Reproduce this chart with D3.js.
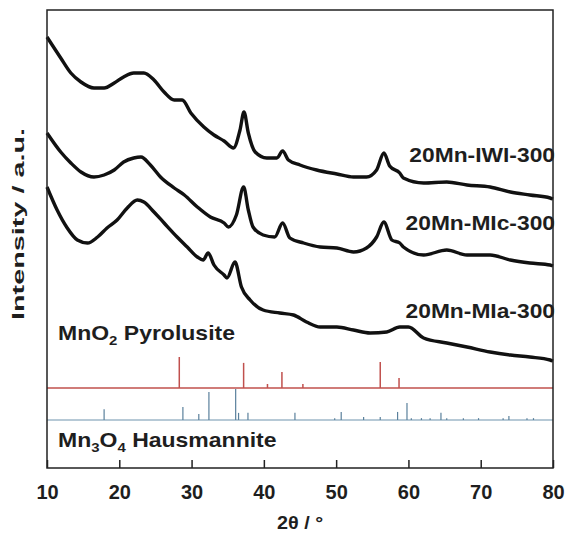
<!DOCTYPE html>
<html>
<head>
<meta charset="utf-8">
<script src="https://cdn.jsdelivr.net/npm/d3@7"></script>
<style>
  body { margin: 0; background: #fff; }
  text { font-family: Arial, "Liberation Sans", sans-serif; font-weight: bold; fill: #1e1e1e; }
</style>
</head>
<body>
<div id="chart"></div>
<script>
// XRD patterns, [2theta, intensity a.u.]
const mniwi = [[10,431],[11.9,410],[13.3,395],[14.7,386],[16.5,380],[17.9,380],[19.3,385],[20.6,391],[22,395],[23.4,395],[24.8,388],[26.2,376],[27.6,368],[28.7,368],[29.9,355],[31.7,341],[33.1,333],[34.5,327],[35.8,320],[36.7,338],[37.25,356],[37.85,335],[38.8,316],[40.4,310],[41.8,310],[42.6,317],[43.4,308],[45,303],[47.3,298],[50.1,294],[52.4,291],[54.2,291],[55.6,298],[56.6,315],[57.4,302],[58.8,295],[59.3,290],[62.1,285],[65.3,286],[68.1,283],[71.3,281],[74.1,276],[76.8,273],[79.6,270],[80,269]];
const mnmic = [[10,335],[11.9,316],[13.3,305],[14.7,296],[16.5,291],[17.9,293],[19.3,298],[20.6,306],[22,310],[23,311],[24.3,303],[25.7,291],[27.6,280],[29,273],[30.8,261],[32.6,251],[34.5,245],[35.1,241],[36.2,253],[37.2,281],[37.85,258],[38.5,241],[39.9,233],[41.5,231],[42.6,245],[43.6,230],[45.5,225],[47.8,221],[50.1,220],[52.4,216],[54.2,220],[55.6,231],[56.6,246],[57.7,228],[58.8,225],[59.3,221],[62.1,213],[65.3,218],[68.1,213],[71.3,213],[74.1,208],[76.8,205],[79.6,203],[80,202]];
const mnmia = [[10,281],[11.4,258],[12.8,240],[14.2,228],[15.6,225],[17,231],[18.3,240],[19.7,248],[21.1,260],[22.5,268],[23.4,266],[24.8,256],[26.2,245],[28,231],[29.4,221],[30.8,211],[31.6,208],[32.3,215],[33.1,203],[34.5,193],[34.9,190],[36,206],[36.9,181],[38.1,168],[39.9,158],[42.2,155],[44.1,153],[45.9,146],[47.8,141],[50.1,141],[52.4,138],[54.7,135],[57,136],[58.8,141],[60,141],[62.1,130],[65.3,125],[68.1,121],[71.3,116],[74.1,113],[76.8,111],[79.6,108],[80,107]];

const seriesNames = ["20Mn-IWI-300", "20Mn-MIc-300", "20Mn-MIa-300"];
const labelLevels = [306, 238, 150];

// reference patterns, [2theta, relative intensity]
const pyrolusite = [[28.3,100],[37.2,81],[40.5,13],[42.5,52],[45.4,13],[56.1,84],[58.7,32]];
const hausmannite = [[17.9,35],[28.8,42],[31.0,19],[32.4,90],[36.1,100],[36.5,23],[37.8,23],[44.3,23],[49.8,6],[50.7,26],[53.8,10],[56.1,10],[58.5,26],[59.8,55],[60.4,6],[61.8,6],[63.0,6],[64.5,23],[65.3,6],[67.6,6],[69.7,6],[73.1,6],[73.9,13],[76.4,6],[77.3,6]];

const xTicks = [10, 20, 30, 40, 50, 60, 70, 80];

const width = 566;
const height = 535;
const margin = { top: 10, right: 13, bottom: 67, left: 47 };

const svg = d3.select("#chart").append("svg")
  .attr("width", width)
  .attr("height", height);

const x = d3.scaleLinear().domain([10, 80]).range([margin.left, width - margin.right]);
const y = d3.scaleLinear().domain([0, 458]).range([height - margin.bottom, margin.top]);

// stick heights
const stick = d3.scaleLinear().domain([0, 100]).range([0, 31]);
const redBase = 388;
const blueBase = 420;

// patterns
const line = d3.line()
  .x(d => x(d[0]))
  .y(d => y(d[1]))
  .curve(d3.curveMonotoneX);
[mniwi, mnmic, mnmia].forEach(s => {
  svg.append("path")
    .datum(s)
    .attr("fill", "none")
    .attr("stroke", "#111")
    .attr("stroke-width", 3.4)
    .attr("stroke-linejoin", "round")
    .attr("d", line);
});

// series labels
seriesNames.forEach((name, i) => {
  svg.append("text")
    .attr("transform", `translate(${x(80) + 2},${y(labelLevels[i])}) scale(1.14,1)`)
    .attr("text-anchor", "end")
    .style("font-size", "20px")
    .text(name);
});

// reference sticks
svg.append("line")
  .attr("x1", x(10)).attr("x2", x(80))
  .attr("y1", redBase).attr("y2", redBase)
  .attr("stroke", "#c0504d").attr("stroke-width", 1.5);
svg.selectAll(".red")
  .data(pyrolusite)
  .enter()
  .append("line")
  .attr("x1", d => x(d[0])).attr("x2", d => x(d[0]))
  .attr("y1", redBase).attr("y2", d => redBase - stick(d[1]))
  .attr("stroke", "#c0504d").attr("stroke-width", 1.5);

svg.append("line")
  .attr("x1", x(10)).attr("x2", x(80))
  .attr("y1", blueBase).attr("y2", blueBase)
  .attr("stroke", "#6f93ad").attr("stroke-width", 1.2);
svg.selectAll(".blue")
  .data(hausmannite)
  .enter()
  .append("line")
  .attr("x1", d => x(d[0])).attr("x2", d => x(d[0]))
  .attr("y1", blueBase).attr("y2", d => blueBase - stick(d[1]))
  .attr("stroke", "#5a809c").attr("stroke-width", 1.2);

// phase labels
const pyro = svg.append("text")
  .attr("transform", "translate(58,340) scale(1.15,1)")
  .style("font-size", "20px");
pyro.append("tspan").text("MnO");
pyro.append("tspan").attr("dy", 5).style("font-size", "13px").text("2");
pyro.append("tspan").attr("dy", -5).text(" Pyrolusite");

const haus = svg.append("text")
  .attr("transform", "translate(58,447) scale(1.15,1)")
  .style("font-size", "20px");
haus.append("tspan").text("Mn");
haus.append("tspan").attr("dy", 5).style("font-size", "13px").text("3");
haus.append("tspan").attr("dy", -5).text("O");
haus.append("tspan").attr("dy", 5).style("font-size", "13px").text("4");
haus.append("tspan").attr("dy", -5).text(" Hausmannite");

// frame
svg.append("rect")
  .attr("x", x(10)).attr("y", y(458))
  .attr("width", x(80) - x(10))
  .attr("height", y(0) - y(458))
  .attr("fill", "none")
  .attr("stroke", "#222")
  .attr("stroke-width", 1.5);

// x axis, ticks inside
const xAxis = svg.append("g")
  .attr("transform", `translate(0,${y(0)})`)
  .call(d3.axisBottom(x).tickValues(xTicks).tickSizeInner(-8).tickSizeOuter(0).tickPadding(17));
xAxis.select(".domain").remove();
xAxis.selectAll("line").attr("stroke", "#222").attr("stroke-width", 1.5);
xAxis.selectAll("text")
  .style("font-size", "20px")
  .style("font-family", "Arial, 'Liberation Sans', sans-serif")
  .attr("fill", "#1e1e1e");

// axis titles
svg.append("text")
  .attr("transform", `translate(${(x(10) + x(80)) / 2},529) scale(1.1,1)`)
  .attr("text-anchor", "middle")
  .style("font-size", "18px")
  .text("2θ / °");

svg.append("text")
  .attr("transform", "translate(24,224) rotate(-90)")
  .attr("text-anchor", "middle")
  .attr("textLength", 192)
  .attr("lengthAdjust", "spacingAndGlyphs")
  .style("font-size", "16px")
  .text("Intensity / a.u.");
</script>
</body>
</html>
